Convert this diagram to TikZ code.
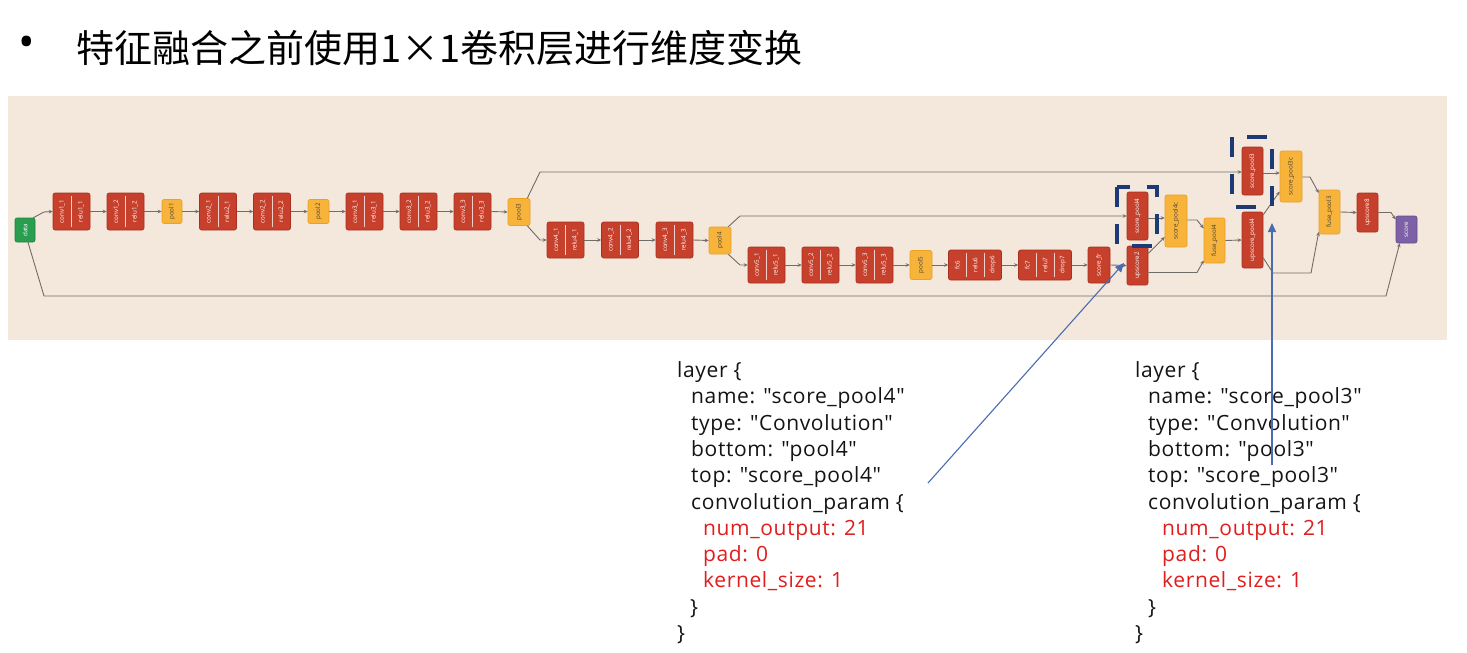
\documentclass[tikz,border=0pt]{standalone}
\usepackage{fontspec}
\setmainfont{Open Sans}
\newfontfamily\cjk{Noto Sans CJK SC}
\newfontfamily\codefont{Open Sans}[Ligatures=TeXOff,LetterSpace=3]
\usetikzlibrary{arrows.meta,calc}
\definecolor{panel}{RGB}{244,232,220}
\definecolor{rfill}{RGB}{198,64,44}
\definecolor{rdraw}{RGB}{168,48,32}
\definecolor{yfill}{RGB}{248,180,58}
\definecolor{ydraw}{RGB}{232,160,40}
\definecolor{gfill}{RGB}{42,158,80}
\definecolor{gdraw}{RGB}{30,130,62}
\definecolor{pfill}{RGB}{126,96,166}
\definecolor{pdraw}{RGB}{100,76,140}
\definecolor{edgec}{RGB}{112,108,104}
\definecolor{annot}{RGB}{74,108,178}
\definecolor{hilite}{RGB}{30,58,118}
\definecolor{codered}{RGB}{225,30,30}
\definecolor{codeblk}{RGB}{20,20,20}

\newcommand{\lyone}[8]{% style, name, x, y, w, h, label, labelstyle
  \node[#1,minimum width=#5pt,minimum height=#6pt] (#2) at (#3,#4) {};
  \node[#8] (#2-l) at (#2.center) {#7};}
\newcommand{\lytwo}[7]{% name, x, y, w, h, lab1, lab2
  \node[rbox,minimum width=#4pt,minimum height=#5pt] (#1) at (#2,#3) {};
  \draw[sepl] ([yshift=-3pt]#1.north) -- ([yshift=3pt]#1.south);
  \node[rlab] (#1-a) at ([xshift={-0.25*#4pt}]#1.center) {#6};
  \node[rlab] (#1-b) at ([xshift={0.25*#4pt}]#1.center) {#7};}
\newcommand{\lythree}[8]{% name, x, y, w, h, lab1, lab2, lab3
  \node[rbox,minimum width=#4pt,minimum height=#5pt] (#1) at (#2,#3) {};
  \draw[sepl] ([yshift=-3pt,xshift={-#4pt/6}]#1.north) -- ([yshift=3pt,xshift={-#4pt/6}]#1.south);
  \draw[sepl] ([yshift=-3pt,xshift={#4pt/6}]#1.north) -- ([yshift=3pt,xshift={#4pt/6}]#1.south);
  \node[rlab] (#1-a) at ([xshift={-#4pt/3}]#1.center) {#6};
  \node[rlab] (#1-b) at (#1.center) {#7};
  \node[rlab] (#1-c) at ([xshift={#4pt/3}]#1.center) {#8};}

\begin{document}
\begin{tikzpicture}[x=1pt,y=-1pt,
  rbox/.style={draw=rdraw,fill=rfill,rounded corners=2pt,inner sep=0pt,line width=0.6pt},
  ybox/.style={draw=ydraw,fill=yfill,rounded corners=2pt,inner sep=0pt,line width=0.6pt},
  gbox/.style={draw=gdraw,fill=gfill,rounded corners=2pt,inner sep=0pt,line width=0.6pt},
  pbox/.style={draw=pdraw,fill=pfill,rounded corners=2pt,inner sep=0pt,line width=0.6pt},
  sepl/.style={draw=white!75!rfill,line width=0.5pt},
  rlab/.style={rotate=90,text=white,font=\fontsize{6.2}{6.2}\selectfont,inner sep=0pt},
  ylab/.style={rotate=90,text=black!75,font=\fontsize{6.2}{6.2}\selectfont,inner sep=0pt},
  edge/.style={draw=edgec,line width=0.9pt,-{Stealth[length=4pt,width=3.6pt]}},
  hl/.style={draw=hilite,line width=4.5pt,dash pattern=on 20pt off 17pt},
  annarrow/.style={draw=annot,line width=1.1pt,-{Triangle[length=9pt,width=8pt]}},
  code/.style={anchor=base west,inner sep=0pt,text=codeblk,font=\codefont\fontsize{21}{21}\selectfont},
  codr/.style={code,text=codered}]
\useasboundingbox (0,0) rectangle (1467,653);
\fill[white] (0,0) rectangle (1467,653);
\fill[panel] (8,96) rectangle (1447,340);

% title
\node[inner sep=0pt,font=\fontsize{44}{44}\selectfont] (bullet) at (26.5,47) {•};
\node[inner sep=0pt,anchor=west,font=\cjk\fontsize{38}{38}\selectfont] (title) at (76,48.5) {特征融合之前使用1×1卷积层进行维度变换};

% ---------- bend points ----------
\coordinate (d1) at (44,212);
\coordinate (d2) at (44,296);
\coordinate (d3) at (1386,296);
\coordinate (p3a) at (540,172);
\coordinate (p3b) at (540,240);
\coordinate (p4a) at (740,216);
\coordinate (p4b) at (740,265);
\coordinate (u2a) at (1197,272.5);
\coordinate (s4a) at (1197,220);
\coordinate (up4a) at (1273,273);
\coordinate (up4b) at (1311,273);
\coordinate (s3a) at (1310,177);
\coordinate (u8a) at (1391,212.5);

% ---------- nodes ----------
\lyone{gbox}{data}{25}{230}{20}{24}{data}{rlab}
\lytwo{conv1_1}{71.5}{211.5}{37}{37}{conv1\_1}{relu1\_1}
\lytwo{conv1_2}{125.5}{211.5}{37}{37}{conv1\_2}{relu1\_2}
\lyone{ybox}{pool1}{172}{211.5}{20}{24}{pool1}{ylab}
\lytwo{conv2_1}{218}{211.5}{37}{37}{conv2\_1}{relu2\_1}
\lytwo{conv2_2}{272}{211.5}{37}{37}{conv2\_2}{relu2\_2}
\lyone{ybox}{pool2}{318.5}{211.5}{21}{24}{pool2}{ylab}
\lytwo{conv3_1}{364.5}{211.5}{37}{37}{conv3\_1}{relu3\_1}
\lytwo{conv3_2}{418.5}{211.5}{37}{37}{conv3\_2}{relu3\_2}
\lytwo{conv3_3}{472.5}{211.5}{37}{37}{conv3\_3}{relu3\_3}
\lyone{ybox}{pool3}{519}{212}{22}{27}{pool3}{ylab}
\lytwo{conv4_1}{565.5}{240}{37}{36}{conv4\_1}{relu4\_1}
\lytwo{conv4_2}{620}{240}{37}{36}{conv4\_2}{relu4\_2}
\lytwo{conv4_3}{674.5}{240}{37}{36}{conv4\_3}{relu4\_3}
\lyone{ybox}{pool4}{720}{240.5}{22}{27}{pool4}{ylab}
\lytwo{conv5_1}{766.5}{265}{37}{36}{conv5\_1}{relu5\_1}
\lytwo{conv5_2}{820.5}{265}{37}{36}{conv5\_2}{relu5\_2}
\lytwo{conv5_3}{874.5}{265}{37}{36}{conv5\_3}{relu5\_3}
\lyone{ybox}{pool5}{921}{265}{22}{29}{pool5}{ylab}
\lythree{fc6}{975}{265}{53}{30}{fc6}{relu6}{drop6}
\lythree{fc7}{1045}{265}{53}{30}{fc7}{relu7}{drop7}
\lyone{rbox}{score_fr}{1099}{265}{22}{36}{score\_fr}{rlab}
\lyone{rbox}{upscore2}{1137.5}{265.5}{21}{39}{upscore2}{rlab}
\lyone{rbox}{score_pool4}{1137.5}{216}{21}{48}{score\_pool4}{rlab}
\lyone{ybox}{score_pool4c}{1176}{221}{22}{52}{score\_pool4c}{ylab}
\lyone{ybox}{fuse_pool4}{1214.5}{240.5}{21}{45}{fuse\_pool4}{ylab}
\lyone{rbox}{upscore_pool4}{1252.5}{240}{21}{56}{upscore\_pool4}{rlab}
\lyone{rbox}{score_pool3}{1252.5}{171}{21}{48}{score\_pool3}{rlab}
\lyone{ybox}{score_pool3c}{1291}{176.5}{22}{51}{score\_pool3c}{ylab}
\lyone{ybox}{fuse_pool3}{1329.5}{212}{21}{44}{fuse\_pool3}{ylab}
\lyone{rbox}{upscore8}{1367.5}{212.5}{21}{39}{upscore8}{rlab}
\lyone{pbox}{score}{1406.5}{229.5}{21}{27}{score}{rlab}

% ---------- connectors ----------
\draw[edge] ([xshift=-2pt]data.north east) -- (d1) -- (conv1_1.west);
\foreach \a/\b in {conv1_1/conv1_2,conv1_2/pool1,pool1/conv2_1,conv2_1/conv2_2,conv2_2/pool2,pool2/conv3_1,conv3_1/conv3_2,conv3_2/conv3_3,conv3_3/pool3,conv4_1/conv4_2,conv4_2/conv4_3,conv4_3/pool4,conv5_1/conv5_2,conv5_2/conv5_3,conv5_3/pool5,pool5/fc6,fc6/fc7,fc7/score_fr,score_fr/upscore2,fuse_pool4/upscore_pool4,fuse_pool3/upscore8}
  \draw[edge] (\a.east) -- (\b.west);
\draw[edge] ([xshift=-3pt]pool3.north east) -- (p3a) -- ([yshift=-1pt]score_pool3.west);
\draw[edge] ([xshift=-3pt]pool3.south east) -- (p3b) -- (conv4_1.west);
\draw[edge] ([xshift=-3pt]pool4.north east) -- (p4a) -- (score_pool4.west);
\draw[edge] ([xshift=-3pt]pool4.south east) -- (p4b) -- (conv5_1.west);
\draw[edge] ($(score_pool4.east)+(0,2)$) -- ($(score_pool4c.west)+(0,-3)$);
\draw[edge] ($(upscore2.east)+(0,-12)$) -- ($(score_pool4c.west)+(0,16)$);
\draw[edge] ($(upscore2.east)+(0,7)$) -- (u2a) -- ($(fuse_pool4.west)+(0,20)$);
\draw[edge] ($(score_pool4c.east)+(0,-1)$) -- (s4a) -- ($(fuse_pool4.west)+(0,-12)$);
\draw[edge] ($(upscore_pool4.north east)+(0,3)$) -- ($(score_pool3c.west)+(0,15)$);
\draw[edge] ($(score_pool3.east)+(0,2)$) -- ($(score_pool3c.west)+(0,-3.5)$);
\draw[edge] ($(upscore_pool4.east)+(0,18)$) -- (up4a) -- (up4b) -- ($(fuse_pool3.west)+(0,20)$);
\draw[edge] ($(score_pool3c.east)+(0,0.5)$) -- (s3a) -- ($(fuse_pool3.west)+(0,-19)$);
\draw[edge] (upscore8.east) -- (u8a) -- ($(score.west)+(0,-10)$);
\draw[edge] ($(data.south)+(3,0)$) -- (d2) -- (d3) -- ($(score.south west)+(4,0)$);

% ---------- highlight boxes ----------
\draw[hl] (1117,187) rectangle (1157,246);
\draw[hl] (1232,137) rectangle (1272,207);

% ---------- code blocks ----------
\node[code] (L1) at (677,377.5) {layer \{};
\node[code] (L2) at (691,403.8) {name: "score\_pool4"};
\node[code] (L3) at (691,430.1) {type: "Convolution"};
\node[code] (L4) at (691,456.4) {bottom: "pool4"};
\node[code] (L5) at (691,482.7) {top: "score\_pool4"};
\node[code] (L6) at (691,509) {convolution\_param \{};
\node[codr] (L7) at (703,535.3) {num\_output: 21};
\node[codr] (L8) at (703,561.6) {pad: 0};
\node[codr] (L9) at (703,587.9) {kernel\_size: 1};
\node[code] (L10) at (690,614.2) {\}};
\node[code] (L11) at (677,640.5) {\}};

\node[code] (R1) at (1135,377.5) {layer \{};
\node[code] (R2) at (1148,403.8) {name: "score\_pool3"};
\node[code] (R3) at (1148,430.1) {type: "Convolution"};
\node[code] (R4) at (1148,456.4) {bottom: "pool3"};
\node[code] (R5) at (1148,482.7) {top: "score\_pool3"};
\node[code] (R6) at (1148,509) {convolution\_param \{};
\node[codr] (R7) at (1162,535.3) {num\_output: 21};
\node[codr] (R8) at (1162,561.6) {pad: 0};
\node[codr] (R9) at (1162,587.9) {kernel\_size: 1};
\node[code] (R10) at (1148,614.2) {\}};
\node[code] (R11) at (1135,640.5) {\}};

% ---------- annotation arrows ----------
\coordinate (a1s) at (928,483);
\coordinate (a1e) at (1124,263);
\coordinate (a2s) at (1272,465);
\coordinate (a2e) at (1272,223);
\draw[annarrow] (a1s) -- (a1e);
\draw[annarrow] (a2s) -- (a2e);
\end{tikzpicture}
\end{document}
